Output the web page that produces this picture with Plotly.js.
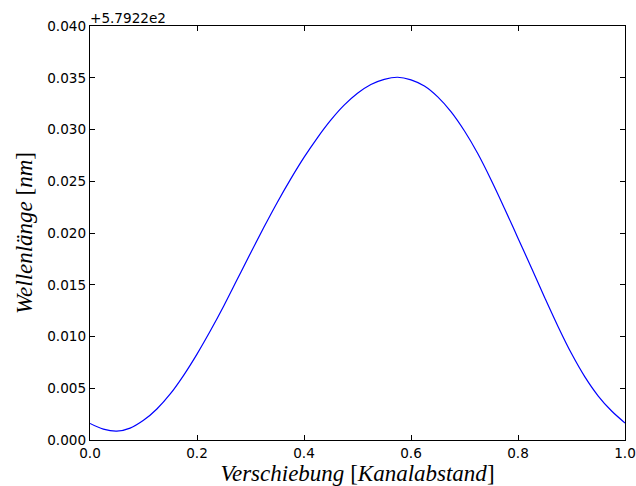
<!DOCTYPE html>
<html>
<head>
<meta charset="utf-8">
<script src="https://cdn.plot.ly/plotly-3.0.1.min.js"></script>
<style>html,body{margin:0;padding:0;background:#fff;}#chart{width:636px;height:486px;}</style>
</head>
<body>
<div id="chart"></div>
<script>
// Verschiebung [Kanalabstand]
const shift = [0.000,0.025,0.050,0.075,0.100,0.125,0.150,0.175,0.200,0.225,0.250,0.275,0.300,0.325,0.350,0.375,0.400,0.425,0.450,0.475,0.500,0.525,0.550,0.575,0.600,0.625,0.650,0.675,0.700,0.725,0.750,0.775,0.800,0.825,0.850,0.875,0.900,0.925,0.950,0.975,1.000];
// Wellenlänge offset from 579.22 nm
const wavelengthOffset = [0.00160,0.00105,0.00085,0.00115,0.00190,0.00300,0.00445,0.00625,0.00830,0.01055,0.01295,0.01550,0.01805,0.02055,0.02295,0.02520,0.02730,0.02920,0.03090,0.03235,0.03350,0.03435,0.03485,0.03505,0.03480,0.03420,0.03315,0.03170,0.02985,0.02765,0.02510,0.02235,0.01950,0.01665,0.01375,0.01095,0.00835,0.00610,0.00425,0.00280,0.00165];
const xTicks = [0.0,0.2,0.4,0.6,0.8,1.0];
const yTicks = [0.000,0.005,0.010,0.015,0.020,0.025,0.030,0.035,0.040];
const offsetLabel = '+5.7922e2';

const tickFont = {family:'DejaVu Sans', size:13.6, color:'#000'};
const titleFont = {family:'Liberation Serif', size:23, color:'#000'};

Plotly.newPlot('chart', [{
  x: shift, y: wavelengthOffset, type:'scatter', mode:'lines',
  line:{color:'#0000ff', width:1.2, shape:'spline', smoothing:1}
}], {
  width:636, height:486,
  margin:{l:90, r:11, t:26, b:46},
  paper_bgcolor:'#fff', plot_bgcolor:'#fff',
  showlegend:false,
  xaxis:{
    range:[0,1], tickvals:xTicks, ticktext:xTicks.map(v=>v.toFixed(1)),
    ticks:'inside', ticklen:5, tickwidth:1, tickcolor:'#000',
    showline:true, linecolor:'#000', linewidth:1.2, mirror:'ticks',
    showgrid:false, zeroline:false, tickfont:tickFont,
    title:{text:'<i>Verschiebung</i> [<i>Kanalabstand</i>]', font:titleFont, standoff:2}
  },
  yaxis:{
    range:[0,0.04], tickvals:yTicks, ticktext:yTicks.map(v=>v.toFixed(3)),
    ticks:'inside', ticklen:5, tickwidth:1, tickcolor:'#000',
    showline:true, linecolor:'#000', linewidth:1.2, mirror:'ticks',
    showgrid:false, zeroline:false, tickfont:tickFont,
    title:{text:'<i>Wellenlänge</i> [<i>nm</i>]', font:titleFont, standoff:8}
  },
  annotations:[{
    text:offsetLabel, xref:'paper', yref:'paper', x:0, y:1, xanchor:'left', yanchor:'bottom',
    showarrow:false, font:tickFont, xshift:-2, yshift:-2
  }]
}, {displayModeBar:false, staticPlot:true});
</script>
</body>
</html>
